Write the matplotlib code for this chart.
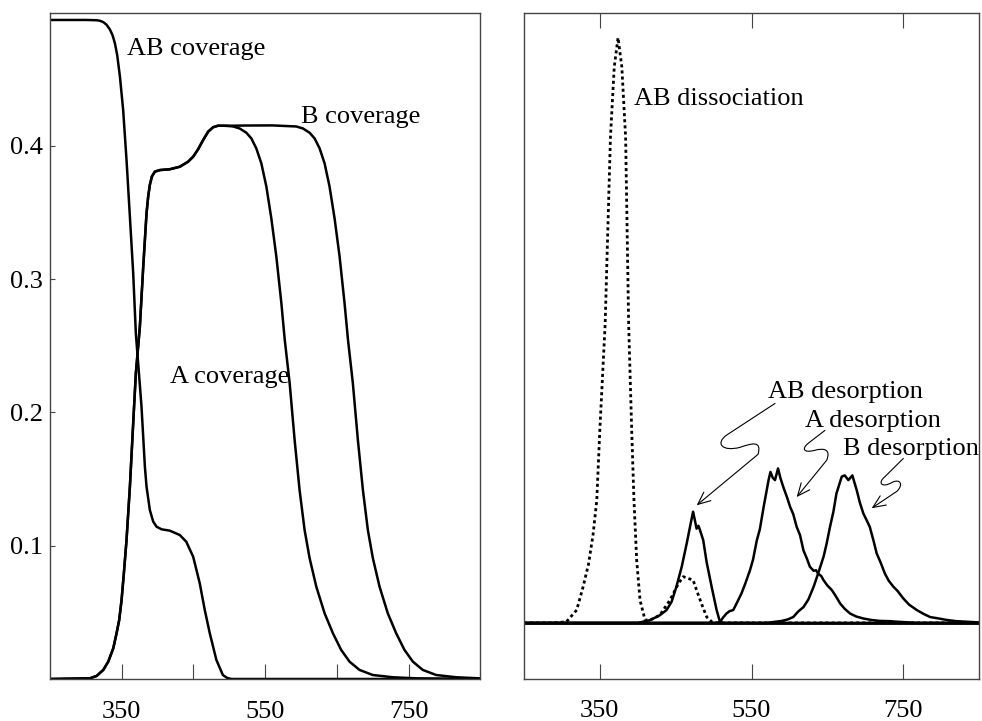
import matplotlib
matplotlib.use('Agg')
from matplotlib import pyplot as plt
from matplotlib.path import Path
from matplotlib.patches import FancyArrowPatch

plt.rcParams['font.family'] = ['Liberation Serif', 'DejaVu Serif']
plt.rcParams['font.size'] = 19

# ---- left panel: coverages vs temperature ----
ab_cov_T = [250, 300, 315, 319.6, 324.3, 328.9, 333.5, 337.2, 340.5, 343.7, 347.5,
            352, 356.7, 361.4, 366, 369.7, 377.6, 382.3, 384.6, 389.2, 393.9,
            398.5, 405.5, 417, 431, 440, 449.6, 458.8, 465.8, 472.8, 482, 491,
            497, 503, 850]
ab_cov = [0.4944, 0.4944, 0.4942, 0.4938, 0.4928, 0.4908, 0.4873, 0.4830, 0.4769,
          0.4681, 0.4519, 0.4269, 0.3894, 0.3468, 0.3044, 0.2593, 0.2043, 0.1593,
          0.1443, 0.1268, 0.1181, 0.1143, 0.1123, 0.1113, 0.108, 0.103, 0.0918,
          0.0718, 0.0518, 0.0343, 0.0143, 0.003, 0.0008, 0, 0]

# A and B coverage grow together until ~500 K
rise_T = [250, 305.7, 315, 324.3, 331.2, 338.2, 342.8, 346.5, 349.8, 353, 356.7,
          361.4, 366, 369.7, 375.3, 380, 382.3, 384.6, 386.9, 389.2, 392, 396.2,
          403.2, 417, 431, 442.6, 449.6, 456.5, 463.5, 470.5, 477.4, 484.4, 496]
rise_cov = [0, 0.0005, 0.0023, 0.0068, 0.0130, 0.023, 0.0343, 0.0443, 0.0593,
            0.0793, 0.1043, 0.1443, 0.1918, 0.2293, 0.2643, 0.3093, 0.3293, 0.3494,
            0.3619, 0.3706, 0.3769, 0.3806, 0.3818, 0.3824, 0.3843, 0.3881, 0.3918,
            0.3974, 0.4043, 0.4106, 0.4139, 0.4151, 0.415]

a_fall_T = [505.3, 514.5, 523.8, 530.8, 537.7, 544.7, 551.7, 558.6, 565.6, 572.6,
            577.2, 584.2, 591.1, 598, 605, 612, 621.3, 632.9, 644.5, 656, 667.7,
            681.6, 700, 728, 760.5, 850]
a_fall = [0.4145, 0.4130, 0.4098, 0.4055, 0.398, 0.3868, 0.3694, 0.3456, 0.3169,
          0.282, 0.2551, 0.2218, 0.1793, 0.1418, 0.1118, 0.0906, 0.0693, 0.0493,
          0.0343, 0.0218, 0.0130, 0.0068, 0.003, 0.0013, 0.0005, 0]

b_fall_T = [520, 560, 593.4, 602.7, 612, 619, 626, 632.9, 639.8, 646.8, 653.8,
            660.7, 665.4, 672.3, 679.3, 686.3, 693.2, 700.2, 709.5, 721, 732.7,
            744.3, 756, 769.8, 788.4, 816.2, 848.7, 850]
b_fall = [0.4152, 0.4153, 0.4145, 0.4130, 0.4098, 0.4055, 0.398, 0.3868, 0.3694,
          0.3456, 0.3169, 0.282, 0.2551, 0.2218, 0.1793, 0.1418, 0.1118, 0.0906,
          0.0693, 0.0493, 0.0343, 0.0218, 0.013, 0.0068, 0.003, 0.0013, 0.0005,
          0.0005]

# ---- right panel: rates (arbitrary units) ----
diss_T = [250, 290, 306, 319.5, 328, 335, 341, 346, 350, 357, 364, 369, 374, 379,
          384, 388, 392, 395, 398.6, 403, 409.6, 416, 429, 442.5, 453.5, 460,
          466.6, 473, 477.6, 484, 491, 497.5, 505, 850]
diss = [0, 0, 0.002, 0.022, 0.062, 0.100, 0.150, 0.210, 0.330, 0.510, 0.830,
        0.950, 1.0, 0.950, 0.830, 0.510, 0.330, 0.210, 0.107, 0.039, 0.005,
        0.0046, 0.013, 0.039, 0.067, 0.079, 0.076, 0.073, 0.056, 0.033, 0.010,
        0.002, 0, 0]

ab_des_T = [250, 400, 416, 429, 438, 444.6, 451, 458, 464.6, 469.8, 473, 477.6,
            480, 482, 486.4, 490.8, 497.4, 504, 508.4, 512, 850]
ab_des = [0, 0, 0.0046, 0.013, 0.022, 0.036, 0.062, 0.096, 0.136, 0.170, 0.190,
          0.161, 0.166, 0.159, 0.141, 0.104, 0.062, 0.022, 0.0017, 0, 0]

a_des_T = [250, 505, 508.5, 513, 517, 521, 526, 531, 537, 542, 548, 552, 557, 561,
           566, 572.5, 575, 578, 581, 585, 588, 592, 597, 601, 605, 609.6, 614,
           618.5, 623, 627, 632, 635, 638, 642, 645, 650, 656, 661, 667, 673,
           680, 688, 697.5, 708, 719.5, 732, 746, 770, 850]
a_des = [0, 0, 0.0017, 0.010, 0.016, 0.020, 0.022, 0.035, 0.051, 0.068, 0.090,
         0.108, 0.141, 0.160, 0.198, 0.244, 0.258, 0.248, 0.244, 0.264, 0.248,
         0.232, 0.214, 0.198, 0.186, 0.164, 0.150, 0.124, 0.110, 0.096, 0.089,
         0.090, 0.084, 0.080, 0.073, 0.064, 0.056, 0.046, 0.033, 0.024, 0.016,
         0.011, 0.0075, 0.005, 0.0034, 0.003, 0.0017, 0, 0]

b_des_T = [250, 570, 590, 598, 605, 612, 618.5, 625, 632, 638, 645, 649, 653.5,
           658, 662, 669, 673, 677.7, 683, 688.7, 693, 697.5, 702, 706, 711, 715,
           720, 726, 731, 737, 743, 750, 758, 768, 776, 785.5, 795, 807.5, 820,
           838, 850]
b_des = [0, 0, 0.0034, 0.006, 0.010, 0.020, 0.027, 0.040, 0.062, 0.085, 0.113,
         0.135, 0.164, 0.190, 0.221, 0.250, 0.252, 0.244, 0.252, 0.227, 0.205,
         0.187, 0.175, 0.164, 0.140, 0.119, 0.104, 0.084, 0.072, 0.062, 0.054,
         0.042, 0.031, 0.022, 0.016, 0.010, 0.008, 0.005, 0.003, 0.0017, 0.0008]

LW = 1.8
SPINE = '#444444'

fig = plt.figure(figsize=(9.82, 7.21), dpi=100)
ax1 = fig.add_axes([50 / 982, 1 - 679 / 721, 430.3 / 982, 666.5 / 721])
ax2 = fig.add_axes([524 / 982, 1 - 678.5 / 721, 455 / 982, 666 / 721])

ax1.plot(ab_cov_T, ab_cov, color='black', lw=LW)
ax1.plot(rise_T + a_fall_T, rise_cov + a_fall, color='black', lw=LW)
ax1.plot(rise_T + b_fall_T, rise_cov + b_fall, color='black', lw=LW)

ax1.set_xlim(250, 850)
ax1.set_ylim(0, 0.5)
ax1.set_xticks([350, 550, 750])
ax1.set_xticks([450, 650], minor=True)
ax1.set_yticks([0.1, 0.2, 0.3, 0.4])
ax1.tick_params(axis='x', which='both', direction='in', length=10.8, width=0.8,
                pad=15.5, color=SPINE)
ax1.tick_params(axis='y', direction='in', length=3.6, width=0.8, pad=4.8,
                color=SPINE)

ax1.text(356.8, 0.468, 'AB coverage', va='baseline')
ax1.text(600.4, 0.4169, 'B coverage', va='baseline')
ax1.text(417, 0.2223, 'A coverage', va='baseline')

ax2.axhline(0, color='black', lw=2.0)
ax2.plot(diss_T, diss, color='black', lw=2.0, linestyle=(0, (1.1, 1.1)))
ax2.plot(ab_des_T, ab_des, color='black', lw=LW)
ax2.plot(a_des_T, a_des, color='black', lw=LW)
ax2.plot(b_des_T, b_des, color='black', lw=LW)

ax2.set_xlim(250, 850)
ax2.set_ylim(-0.095, 1.043)
ax2.set_xticks([350, 550, 750])
ax2.set_yticks([])
ax2.tick_params(axis='x', direction='in', length=10.8, width=0.8, pad=15.5,
                top=True, color=SPINE)

ax2.text(394.8, 0.885, 'AB dissociation', va='baseline')
ax2.text(572.2, 0.3836, 'AB desorption', va='baseline')
ax2.text(620.6, 0.335, 'A desorption', va='baseline')
ax2.text(671, 0.2867, 'B desorption', va='baseline', clip_on=False)

# squiggly pointer arrows (start, lead-in, S loop, tip)
squiggles = [
    [(581.0, 0.375), (517.3, 0.321), (501.9, 0.307), (511.1, 0.292), (534.9, 0.300),
     (550.7, 0.307), (563.9, 0.312), (558.6, 0.288), (477.7, 0.201)],
    [(646.9, 0.329), (624.9, 0.307), (615.3, 0.297), (619.2, 0.290), (633.7, 0.295),
     (645.6, 0.299), (654.9, 0.297), (649.2, 0.278), (609.6, 0.215)],
    [(750.2, 0.281), (726.1, 0.250), (715.5, 0.239), (722.1, 0.230), (735.3, 0.240),
     (745.7, 0.247), (751.0, 0.237), (741.9, 0.225), (708.5, 0.196)],
]
codes = [Path.MOVETO, Path.LINETO, Path.CURVE4, Path.CURVE4, Path.CURVE4,
         Path.CURVE4, Path.CURVE4, Path.CURVE4, Path.LINETO]
for verts in squiggles:
    arrow = FancyArrowPatch(path=Path(verts, codes),
                            arrowstyle='->,head_length=0.5,head_width=0.22',
                            mutation_scale=18, lw=0.8, color='black')
    ax2.add_patch(arrow)

for ax in (ax1, ax2):
    for sp in ax.spines.values():
        sp.set_color(SPINE)
        sp.set_linewidth(1.0)

fig.savefig('out.png', dpi=100)
